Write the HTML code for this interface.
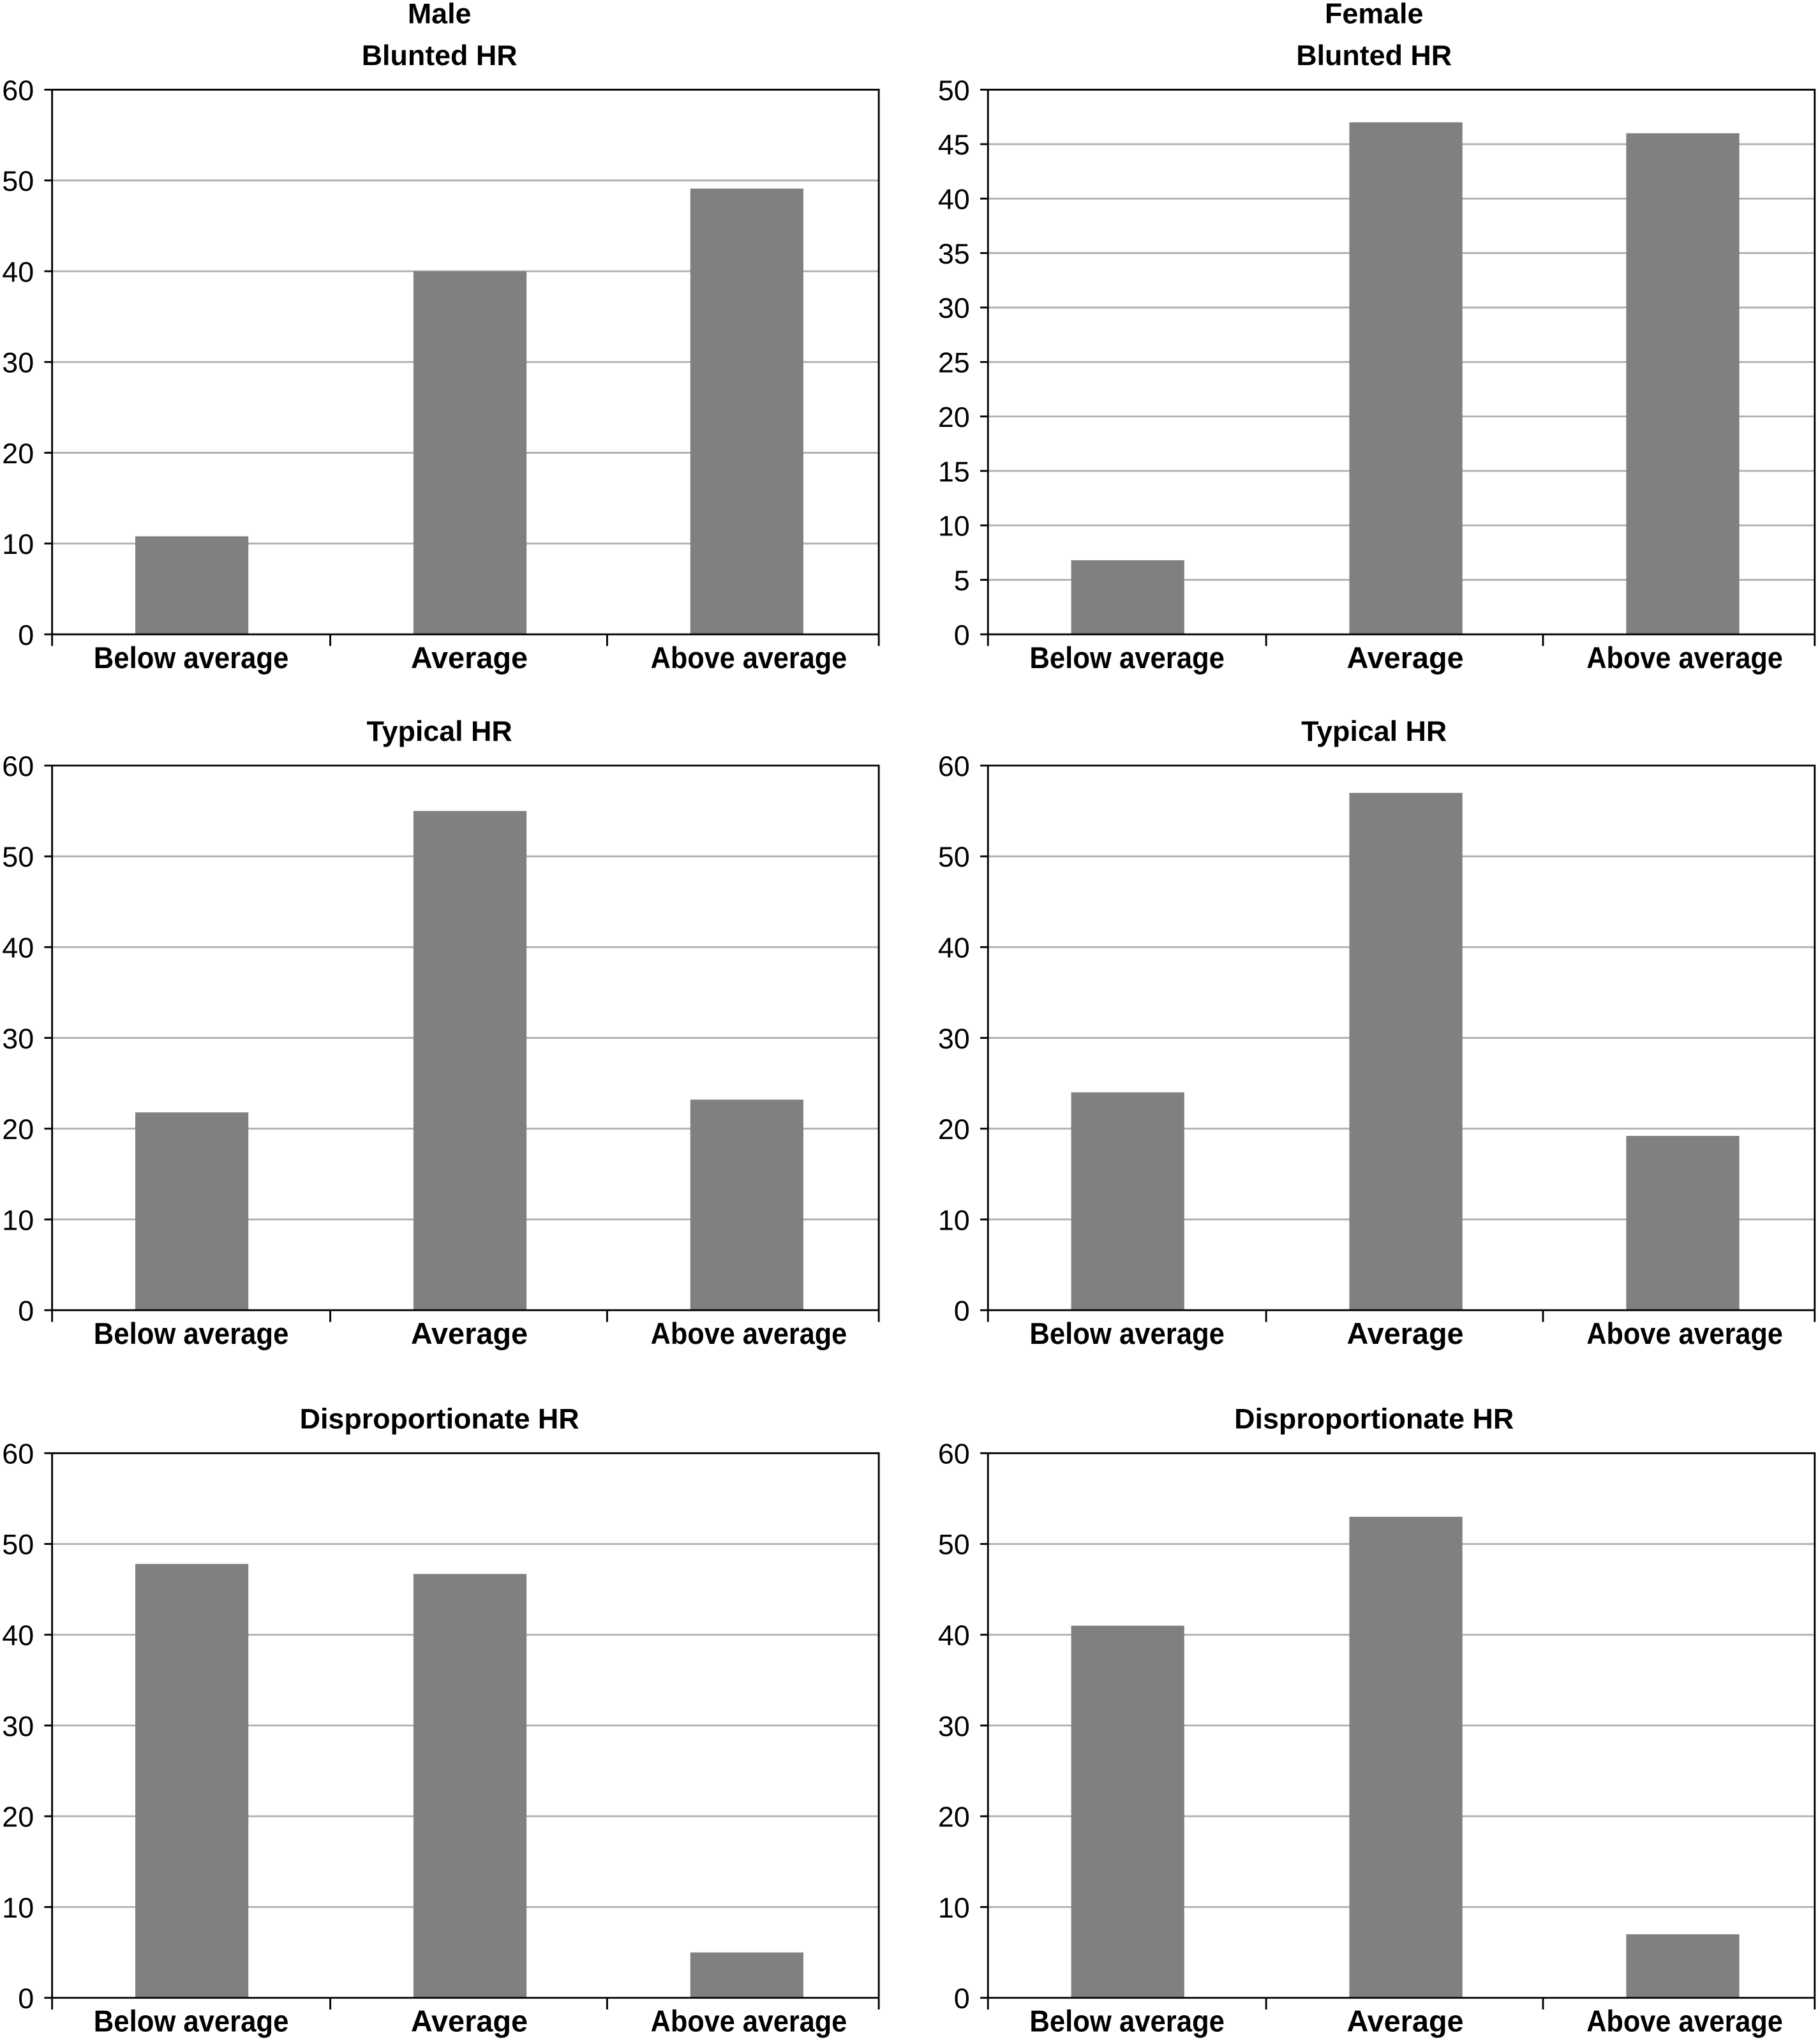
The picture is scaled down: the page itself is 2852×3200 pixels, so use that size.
<!DOCTYPE html>
<html><head><meta charset="utf-8"><style>
html,body{margin:0;padding:0;background:#fff;}
svg{display:block;}
text{font-family:"Liberation Sans",sans-serif;fill:#000;}
.t{font-size:22px;font-weight:bold;text-anchor:middle;}
.x{font-size:23px;font-weight:bold;text-anchor:middle;}
.y{font-size:22px;text-anchor:end;}
.g{stroke:#b0b0b0;stroke-width:1.4;}
.a{stroke:#000;stroke-width:1.4;fill:none;}
.b{fill:#808080;}
</style></head><body>
<svg width="2852" height="3200" viewBox="0 0 1400 1571" xmlns="http://www.w3.org/2000/svg">
<defs>
<g id="g60">
<line class="g" x1="0" x2="636" y1="69.83" y2="69.83"/><line class="g" x1="0" x2="636" y1="139.67" y2="139.67"/><line class="g" x1="0" x2="636" y1="209.5" y2="209.5"/><line class="g" x1="0" x2="636" y1="279.33" y2="279.33"/><line class="g" x1="0" x2="636" y1="349.17" y2="349.17"/>
<text class="y" x="-14" y="8">60</text><text class="y" x="-14" y="77.8">50</text><text class="y" x="-14" y="147.7">40</text><text class="y" x="-14" y="217.5">30</text><text class="y" x="-14" y="287.3">20</text><text class="y" x="-14" y="357.2">10</text><text class="y" x="-14" y="427">0</text>
<line class="a" x1="-6" x2="0" y1="0" y2="0"/><line class="a" x1="-6" x2="0" y1="69.83" y2="69.83"/><line class="a" x1="-6" x2="0" y1="139.67" y2="139.67"/><line class="a" x1="-6" x2="0" y1="209.5" y2="209.5"/><line class="a" x1="-6" x2="0" y1="279.33" y2="279.33"/><line class="a" x1="-6" x2="0" y1="349.17" y2="349.17"/><line class="a" x1="-6" x2="0" y1="419" y2="419"/>
</g>
<g id="g50">
<line class="g" x1="0" x2="636" y1="41.9" y2="41.9"/><line class="g" x1="0" x2="636" y1="83.8" y2="83.8"/><line class="g" x1="0" x2="636" y1="125.7" y2="125.7"/><line class="g" x1="0" x2="636" y1="167.6" y2="167.6"/><line class="g" x1="0" x2="636" y1="209.5" y2="209.5"/><line class="g" x1="0" x2="636" y1="251.4" y2="251.4"/><line class="g" x1="0" x2="636" y1="293.3" y2="293.3"/><line class="g" x1="0" x2="636" y1="335.2" y2="335.2"/><line class="g" x1="0" x2="636" y1="377.1" y2="377.1"/>
<text class="y" x="-14" y="8">50</text><text class="y" x="-14" y="49.9">45</text><text class="y" x="-14" y="91.8">40</text><text class="y" x="-14" y="133.7">35</text><text class="y" x="-14" y="175.6">30</text><text class="y" x="-14" y="217.5">25</text><text class="y" x="-14" y="259.4">20</text><text class="y" x="-14" y="301.3">15</text><text class="y" x="-14" y="343.2">10</text><text class="y" x="-14" y="385.1">5</text><text class="y" x="-14" y="427">0</text>
<line class="a" x1="-6" x2="0" y1="0" y2="0"/><line class="a" x1="-6" x2="0" y1="41.9" y2="41.9"/><line class="a" x1="-6" x2="0" y1="83.8" y2="83.8"/><line class="a" x1="-6" x2="0" y1="125.7" y2="125.7"/><line class="a" x1="-6" x2="0" y1="167.6" y2="167.6"/><line class="a" x1="-6" x2="0" y1="209.5" y2="209.5"/><line class="a" x1="-6" x2="0" y1="251.4" y2="251.4"/><line class="a" x1="-6" x2="0" y1="293.3" y2="293.3"/><line class="a" x1="-6" x2="0" y1="335.2" y2="335.2"/><line class="a" x1="-6" x2="0" y1="377.1" y2="377.1"/><line class="a" x1="-6" x2="0" y1="419" y2="419"/>
</g>
<g id="frame">
<polyline class="a" points="0,0 636,0 636,419"/>
<line class="a" x1="0" x2="0" y1="0" y2="428"/>
<line class="a" x1="0" x2="636" y1="419" y2="419"/>
<line class="a" x1="214" x2="214" y1="419" y2="428"/><line class="a" x1="427" x2="427" y1="419" y2="428"/><line class="a" x1="636" x2="636" y1="419" y2="428"/>
<text class="x" x="107" y="445" textLength="150" lengthAdjust="spacingAndGlyphs">Below average</text>
<text class="x" x="321" y="445">Average</text>
<text class="x" x="536" y="445" textLength="151" lengthAdjust="spacingAndGlyphs">Above average</text>
</g>
</defs>

<!-- Row 1 left -->
<g transform="translate(40,69)">
<use href="#g60"/>
<rect class="b" x="64" y="343.6" width="87" height="75.4"/>
<rect class="b" x="278" y="139.7" width="87" height="279.3"/>
<rect class="b" x="491" y="76.1" width="87" height="342.9"/>
<use href="#frame"/>
<text class="t" x="298" y="-51">Male</text>
<text class="t" x="298" y="-19">Blunted HR</text>
</g>
<!-- Row 1 right -->
<g transform="translate(760,69)">
<use href="#g50"/>
<rect class="b" x="64" y="362" width="87" height="57"/>
<rect class="b" x="278" y="25.1" width="87" height="393.9"/>
<rect class="b" x="491" y="33.5" width="87" height="385.5"/>
<use href="#frame"/>
<text class="t" x="297" y="-51">Female</text>
<text class="t" x="297" y="-19">Blunted HR</text>
</g>
<!-- Row 2 left -->
<g transform="translate(40,589)">
<use href="#g60"/>
<rect class="b" x="64" y="266.8" width="87" height="152.2"/>
<rect class="b" x="278" y="34.9" width="87" height="384.1"/>
<rect class="b" x="491" y="257" width="87" height="162"/>
<use href="#frame"/>
<text class="t" x="298" y="-19">Typical HR</text>
</g>
<!-- Row 2 right -->
<g transform="translate(760,589)">
<use href="#g60"/>
<rect class="b" x="64" y="251.4" width="87" height="167.6"/>
<rect class="b" x="278" y="21" width="87" height="398"/>
<rect class="b" x="491" y="284.9" width="87" height="134.1"/>
<use href="#frame"/>
<text class="t" x="297" y="-19">Typical HR</text>
</g>
<!-- Row 3 left -->
<g transform="translate(40,1118)">
<use href="#g60"/>
<rect class="b" x="64" y="85.2" width="87" height="333.8"/>
<rect class="b" x="278" y="92.9" width="87" height="326.1"/>
<rect class="b" x="491" y="384.1" width="87" height="34.9"/>
<use href="#frame"/>
<text class="t" x="298" y="-19">Disproportionate HR</text>
</g>
<!-- Row 3 right -->
<g transform="translate(760,1118)">
<use href="#g60"/>
<rect class="b" x="64" y="132.7" width="87" height="286.3"/>
<rect class="b" x="278" y="48.9" width="87" height="370.1"/>
<rect class="b" x="491" y="370.1" width="87" height="48.9"/>
<use href="#frame"/>
<text class="t" x="297" y="-19">Disproportionate HR</text>
</g>
</svg>
</body></html>
